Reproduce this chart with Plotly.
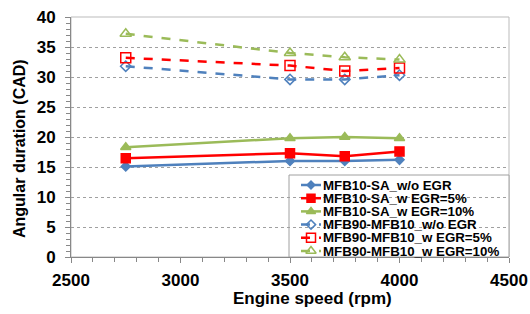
import plotly.graph_objects as go

speeds = [2750, 3500, 3750, 4000]
mfb10_sa_wo = [15.1, 16.0, 16.0, 16.2]
mfb10_sa_5 = [16.45, 17.3, 16.8, 17.6]
mfb10_sa_10 = [18.3, 19.8, 20.0, 19.8]
mfb90_wo = [31.8, 29.6, 29.6, 30.3]
mfb90_5 = [33.2, 31.9, 31.0, 31.5]
mfb90_10 = [37.2, 34.0, 33.3, 32.9]

names = ["MFB10-SA_w/o EGR", "MFB10-SA_w EGR=5%", "MFB10-SA_w EGR=10%",
         "MFB90-MFB10_w/o EGR", "MFB90-MFB10_w EGR=5%", "MFB90-MFB10_w EGR=10%"]
x_title = "Engine speed (rpm)"
y_title = "Angular duration (CAD)"

blue, red, green = "#4F81BD", "#FF0000", "#9BBB59"
series = [
    (mfb10_sa_wo, blue, "solid", "diamond", 7),
    (mfb10_sa_5, red, "solid", "square", 9),
    (mfb10_sa_10, green, "solid", "triangle-up", 9),
    (mfb90_wo, blue, "dash", "diamond-open", 8),
    (mfb90_5, red, "dash", "square-open", 10),
    (mfb90_10, green, "dash", "triangle-up-open", 10),
]

font = "Liberation Sans, Arial, sans-serif"
fig = go.Figure()
for (vals, col, dash, sym, sz), nm in zip(series, names):
    fig.add_trace(go.Scatter(
        x=speeds, y=vals, name=nm, mode="lines+markers", showlegend=False,
        line=dict(color=col, width=2.5, dash=dash),
        marker=dict(symbol=sym, size=sz, color=col, line=dict(color=col, width=1.5)),
    ))

PL, PR, PT, PB = 71, 509, 17, 257
W, H = PR - PL, PB - PT

# Custom compact legend (layout positions in pixel units of an overlay axis)
L_X0, L_X1, L_MID, L_TXT = 301, 321, 311, 322
row_y = [185 + 13.2 * i for i in range(6)]
annotations = []
for (vals, col, dash, sym, sz), nm, ry in zip(series, names, row_y):
    fig.add_trace(go.Scatter(
        x=[L_X0, L_X1], y=[ry, ry], mode="lines", showlegend=False, hoverinfo="skip",
        line=dict(color=col, width=2.5, dash="dash" if dash == "dash" else "solid"),
        xaxis="x2", yaxis="y2",
    ))
    fig.add_trace(go.Scatter(
        x=[L_MID], y=[ry], mode="markers", showlegend=False, hoverinfo="skip",
        marker=dict(symbol=sym, size=sz - 1, color=col, line=dict(color=col, width=1.5)),
        xaxis="x2", yaxis="y2",
    ))
    annotations.append(dict(
        x=L_TXT, y=ry, xref="x2", yref="y2", text=nm, showarrow=False,
        xanchor="left", yanchor="middle", borderpad=0,
        font=dict(size=13.3, family=font, color="black", weight="bold"),
    ))

annotations.append(dict(
    x=(312 - PL) / W, y=(PB - 298) / H, xref="paper", yref="paper", text=x_title,
    showarrow=False, xanchor="center", yanchor="middle", borderpad=0,
    font=dict(size=17, family=font, color="black", weight="bold"),
))
annotations.append(dict(
    x=(19 - PL) / W, y=(PB - 149) / H, xref="paper", yref="paper", text=y_title,
    showarrow=False, xanchor="center", yanchor="middle", textangle=-90, borderpad=0,
    font=dict(size=16, family=font, color="black", weight="bold"),
))

fig.update_layout(
    width=530, height=314,
    margin=dict(l=PL, r=530 - PR, t=PT, b=314 - PB, autoexpand=False),
    paper_bgcolor="white", plot_bgcolor="white",
    font=dict(family=font, color="black"),
    showlegend=False,
    annotations=annotations,
    xaxis=dict(
        range=[2500, 4500], tickvals=[2500, 3000, 3500, 4000, 4500],
        ticks="outside", ticklen=5, tickcolor="#888888",
        minor=dict(dtick=100, ticks="outside", ticklen=4, tickcolor="#888888"),
        showgrid=False, zeroline=False, automargin=False,
        showline=True, linecolor="#888888", linewidth=1,
        tickfont=dict(size=17, weight="bold"), ticklabelstandoff=3,
    ),
    yaxis=dict(
        range=[0, 40], dtick=5,
        ticks="outside", ticklen=5, tickcolor="#888888",
        minor=dict(dtick=1, ticks="outside", ticklen=4, tickcolor="#888888", showgrid=False),
        showgrid=True, gridcolor="#A0A0A0", griddash="dot", gridwidth=1,
        zeroline=False, automargin=False,
        showline=True, linecolor="#888888", linewidth=1,
        tickfont=dict(size=17, weight="bold"), ticklabelstandoff=6,
    ),
    xaxis2=dict(overlaying="x", range=[PL, PR], visible=False, fixedrange=True),
    yaxis2=dict(overlaying="y", range=[PB, PT], visible=False, fixedrange=True),
    shapes=[
        dict(type="rect", xref="paper", yref="paper", x0=0, x1=1, y0=0, y1=1,
             line=dict(color="#BBBBBB", width=1), layer="below"),
        dict(type="rect", xref="paper", yref="paper",
             x0=(289 - PL) / W, x1=1, y0=0, y1=(PB - 175) / H,
             fillcolor="white", line=dict(color="#A0A0A0", width=1), layer="between"),
    ],
)

fig.write_html("out.html", config={"displayModeBar": False},
               post_script="document.body.style.margin='0';document.body.style.overflow='hidden';")
